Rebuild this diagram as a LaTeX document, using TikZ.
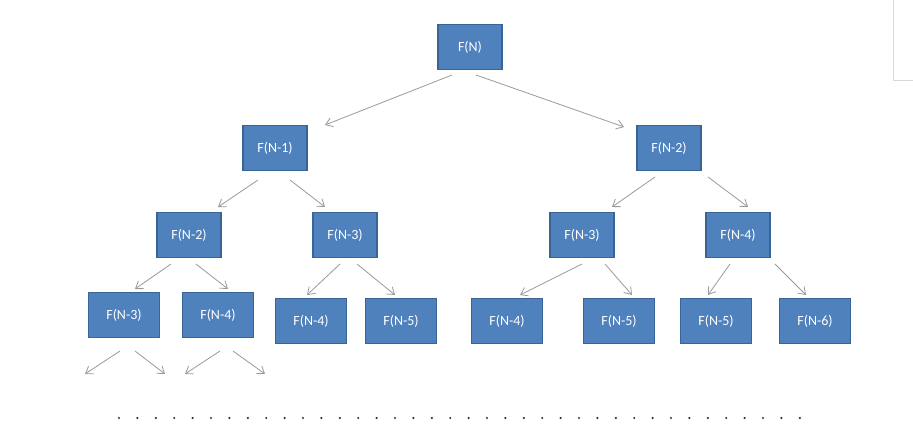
\documentclass[tikz,border=0pt]{standalone}
\usepackage{fontspec}
\setmainfont{Carlito}
\usetikzlibrary{arrows.meta}
\definecolor{boxfill}{HTML}{4F81BD}
\definecolor{boxline}{HTML}{3A6496}
\definecolor{arrgray}{HTML}{9A9A9A}
\begin{document}
\begin{tikzpicture}[x=0.75pt,y=-0.75pt,
  box/.style={draw=boxline,line width=1pt,fill=boxfill,text=white,minimum width=48pt,minimum height=33.5pt,inner sep=0pt,font=\fontsize{10.5}{12}\selectfont},
  wbox/.style={box,minimum width=53pt},
  arr/.style={draw=arrgray,line width=0.6pt,-{Straight Barb[length=5pt,width=7pt]}}]
\useasboundingbox (0,0) rectangle (913,448);
\fill[white] (0,0) rectangle (913,448);
\draw[gray!30] (893,0) -- (893,80) -- (913,80);
% nodes
\node[box] (n) at (470,47) {F(N)};
\node[box] (n1) at (275,148) {F(N-1)};
\node[box] (n2) at (669,148) {F(N-2)};
\node[box] (a) at (189,235) {F(N-2)};
\node[box] (b) at (345,235) {F(N-3)};
\node[box] (c) at (582,235) {F(N-3)};
\node[box] (d) at (738,235) {F(N-4)};
\node[wbox] (a1) at (124,315) {F(N-3)};
\node[wbox] (a2) at (218,315) {F(N-4)};
\node[wbox] (b1) at (311,321) {F(N-4)};
\node[wbox] (b2) at (401,321) {F(N-5)};
\node[wbox] (c1) at (507,321) {F(N-4)};
\node[wbox] (c2) at (619,321) {F(N-5)};
\node[wbox] (d1) at (716,321) {F(N-5)};
\node[wbox] (d2) at (815,321) {F(N-6)};
\coordinate (e1) at (85,374);
\coordinate (e2) at (165,374);
\coordinate (e3) at (185,374);
\coordinate (e4) at (265,374);
% connectors
\draw[arr] ([shift={(-18,5)}]n.south) -- ([shift={(50,0)}]n1.north);
\draw[arr] ([shift={(6,5)}]n.south) -- ([shift={(-45,2)}]n2.north);
\draw[arr] ([shift={(-17,9)}]n1.south) -- ([shift={(29,-5)}]a.north);
\draw[arr] ([shift={(15,9)}]n1.south) -- ([shift={(-20,-5)}]b.north);
\draw[arr] ([shift={(-14,6)}]n2.south) -- ([shift={(30,-5)}]c.north);
\draw[arr] ([shift={(39,6)}]n2.south) -- ([shift={(10,-5)}]d.north);
\draw[arr] ([shift={(-18,6)}]a.south) -- ([shift={(11,-3)}]a1.north);
\draw[arr] ([shift={(7,6)}]a.south) -- ([shift={(10,-3)}]a2.north);
\draw[arr] ([shift={(-5,6)}]b.south) -- ([shift={(-4,-3)}]b1.north);
\draw[arr] ([shift={(12,6)}]b.south) -- ([shift={(-6,-3)}]b2.north);
\draw[arr] ([shift={(0,6)}]c.south) -- ([shift={(13,-3)}]c1.north);
\draw[arr] ([shift={(23,6)}]c.south) -- ([shift={(13,-3)}]c2.north);
\draw[arr] ([shift={(-8,6)}]d.south) -- ([shift={(-8,-3)}]d1.north);
\draw[arr] ([shift={(37,6)}]d.south) -- ([shift={(-9,-3)}]d2.north);
\draw[arr] ([shift={(-4,13)}]a1.south) -- (e1);
\draw[arr] ([shift={(11,13)}]a1.south) -- (e2);
\draw[arr] ([shift={(2,13)}]a2.south) -- (e3);
\draw[arr] ([shift={(15,13)}]a2.south) -- (e4);
% dots
\foreach \i in {0,...,37} \fill[black!80] ({119+\i*18.4},418) circle (1.2);
\end{tikzpicture}
\end{document}
